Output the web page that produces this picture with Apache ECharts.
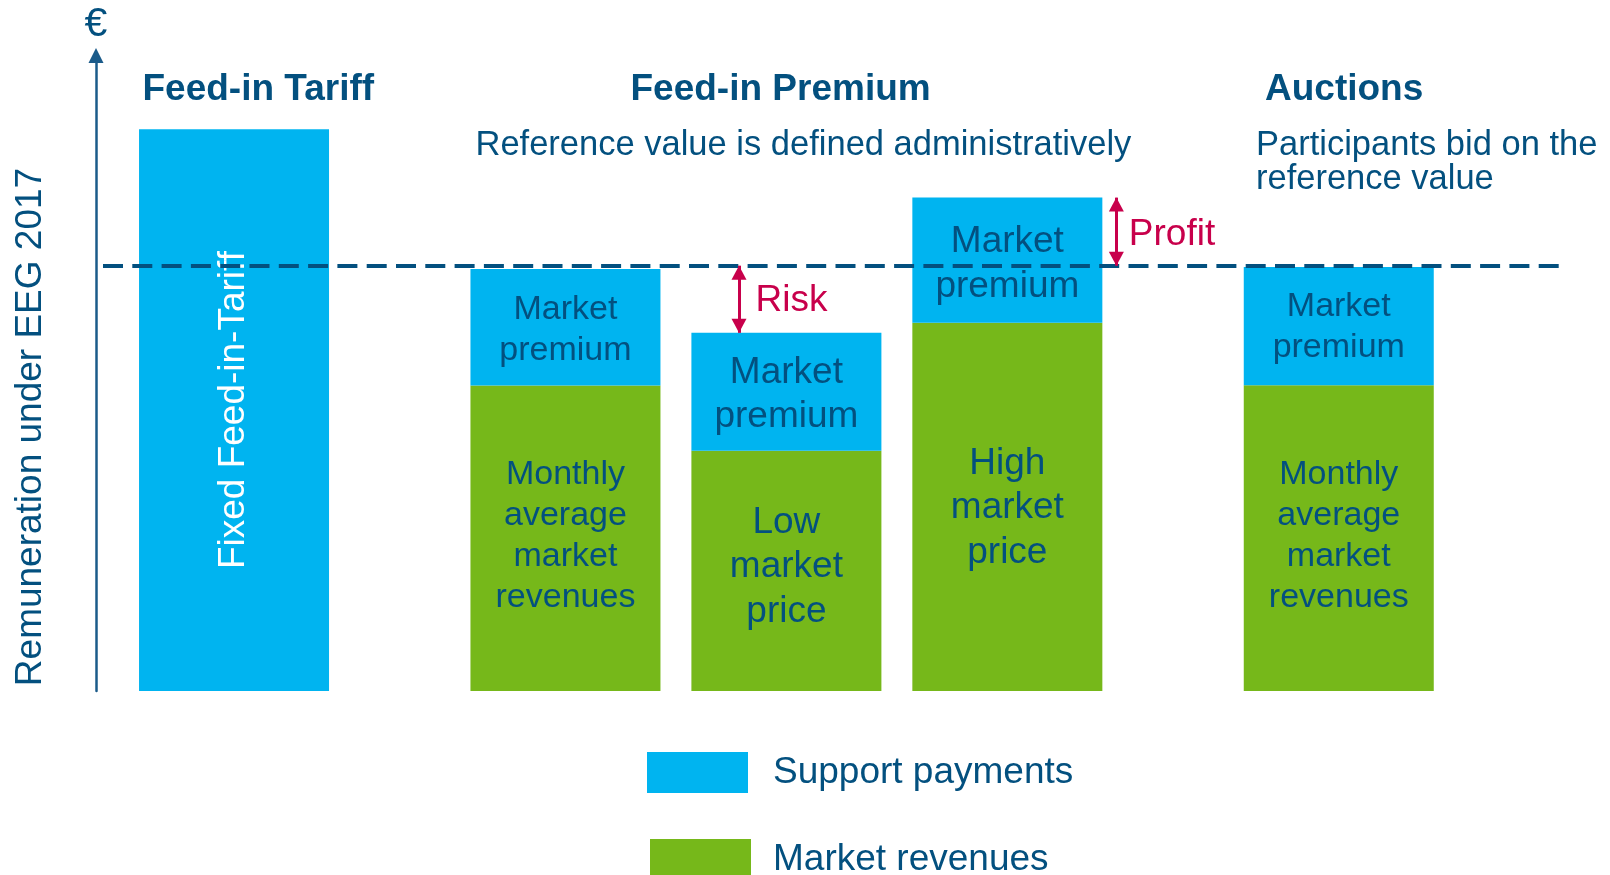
<!DOCTYPE html>
<html>
<head>
<meta charset="utf-8">
<script src="https://cdn.jsdelivr.net/npm/echarts@6/dist/echarts.min.js"></script>
<style>
html,body{margin:0;padding:0;background:#ffffff;}
#chart{width:1610px;height:875px;}
</style>
</head>
<body>
<div id="chart"></div>
<script>
// ---------- data ----------
const slots = ['Feed-in Tariff', '', '', 'FIP: average price', '', 'FIP: low price', '', 'FIP: high price', '', '', 'Auctions'];
const marketRevenues = [null, null, null, 71.8, null, 56.5, null, 86.6, null, null, 71.9];
const supportPayments = [132.1, null, null, 27.4, null, 27.7, null, 29.4, null, null, 27.8];
const referenceValue = 100;
const supportLabels = ['Fixed Feed-in-Tariff', '', '', 'Market\npremium', '', 'Market\npremium', '', 'Market\npremium', '', '', 'Market\npremium'];
const revenueLabels = ['', '', '', 'Monthly\naverage\nmarket\nrevenues', '', 'Low\nmarket\nprice', '', 'High\nmarket\nprice', '', '', 'Monthly\naverage\nmarket\nrevenues'];
const groupTitles = ['Feed-in Tariff', 'Feed-in Premium', 'Auctions'];
const groupNotes = ['Reference value is defined administratively', 'Participants bid on the\nreference value'];
const legendNames = ['Support payments', 'Market revenues'];
const axisName = 'Remuneration under EEG 2017';
const axisUnit = '€';
const annotationNames = ['Risk', 'Profit'];

// ---------- styles ----------
const BLUE = '#00b4f0';
const GREEN = '#76b81a';
const DARK = '#03507f';
const AXIS = '#1b5b8a';
const RED = '#c8004b';
const FONT = '"Liberation Sans", Arial, sans-serif';

const lowIdx = 5, highIdx = 7;
const lowTotal = marketRevenues[lowIdx] + supportPayments[lowIdx];
const highTotal = marketRevenues[highIdx] + supportPayments[highIdx];
const bigSlots = [lowIdx, highIdx];

function labelFor(i, text, isSupport) {
  if (i === 0 && isSupport) {
    return {show: true, position: 'inside', rotate: 90, formatter: text, color: '#ffffff', fontSize: 37, lineHeight: 37, fontFamily: FONT};
  }
  const big = bigSlots.indexOf(i) >= 0;
  const lbl = {show: true, position: 'inside', formatter: text, color: DARK,
    fontSize: big ? 37 : 34, lineHeight: big ? 44.5 : 41, fontFamily: FONT};
  if (isSupport) {
    lbl.offset = [0, i === 10 ? 1 : (i === highIdx ? 4 : 3)];
  } else {
    lbl.offset = [0, i === lowIdx ? -4 : (i === highIdx ? 1 : -2)];
  }
  return lbl;
}

const revenueData = marketRevenues.map((v, i) => v == null ? null : {value: v, label: labelFor(i, revenueLabels[i], false)});
const supportData = supportPayments.map((v, i) => v == null ? null : {value: v, label: labelFor(i, supportLabels[i], true)});

// slot units for the overlay grid (same spacing as the category slots)
const riskX = 4.571, profitX = 7.987;

const arrowLine = (x, y1, y2) => ({
  silent: true,
  symbol: ['triangle', 'triangle'],
  symbolSize: [15, 14],
  symbolOffset: [[0, 7], [0, 7]],
  label: {show: false},
  emphasis: {disabled: true},
  lineStyle: {color: RED, width: 3, type: 'solid'},
  data: [[{coord: [x, y1]}, {coord: [x, y2]}]]
});
const arrowText = (x, y, text, dist, dy) => ({
  silent: true,
  symbol: 'circle',
  symbolSize: 1,
  itemStyle: {color: 'rgba(0,0,0,0)'},
  label: {show: true, position: 'right', distance: dist, offset: [0, dy], formatter: text, color: RED, fontSize: 37, fontFamily: FONT},
  data: [{coord: [x, y]}]
});

const titleStyle = {fontSize: 37, lineHeight: 37, fontWeight: 'bold', color: DARK, fontFamily: FONT};
const noteStyle = {fontSize: 34.5, lineHeight: 34.5, fontWeight: 'normal', color: DARK, fontFamily: FONT};

const chart = echarts.init(document.getElementById('chart'), null, {renderer: 'canvas'});
chart.setOption({
  animation: false,
  backgroundColor: '#ffffff',
  textStyle: {fontFamily: FONT},
  title: [
    {text: groupTitles[0], left: 142.5, top: 71, padding: 0, textStyle: titleStyle},
    {text: groupTitles[1], left: 630.5, top: 71, padding: 0, textStyle: titleStyle},
    {text: groupTitles[2], left: 1265, top: 71, padding: 0, textStyle: titleStyle},
    {text: groupNotes[0], left: 475.5, top: 128, padding: 0, textStyle: noteStyle},
    {text: groupNotes[1], left: 1256, top: 128, padding: 0, textStyle: Object.assign({}, noteStyle, {lineHeight: 34})}
  ],
  legend: [
    {data: [legendNames[0]], orient: 'vertical', left: 647, top: 745, padding: 0, icon: 'rect', itemWidth: 101, itemHeight: 41, selectedMode: false,
     textStyle: {fontSize: 37, lineHeight: 41, color: DARK, padding: [0, 0, 14, 20], fontFamily: FONT}},
    {data: [legendNames[1]], orient: 'vertical', left: 650, top: 832, padding: 0, icon: 'rect', itemWidth: 101, itemHeight: 41, selectedMode: false,
     textStyle: {fontSize: 37, lineHeight: 41, color: DARK, padding: [0, 0, 14, 17], fontFamily: FONT}}
  ],
  grid: [
    {left: 178.8, right: 216, top: 53, bottom: 184},
    {left: 103, right: 49, top: 53, bottom: 184}
  ],
  xAxis: [
    {gridIndex: 0, type: 'category', data: slots, show: false},
    {gridIndex: 1, type: 'value', min: -1.1863, max: 12.012, show: false}
  ],
  yAxis: [
    {gridIndex: 0, type: 'value', min: 0, max: 150, offset: 82.8,
     axisLine: {show: false, onZero: false}, axisTick: {show: false}, axisLabel: {show: false}, splitLine: {show: false},
     name: axisName, nameLocation: 'middle', nameRotate: 90, nameGap: 47,
     nameTextStyle: {fontSize: 37, lineHeight: 37, color: DARK, padding: [0, 110, 0, 0], fontFamily: FONT}},
    {gridIndex: 1, type: 'value', min: 0, max: 150, offset: 7,
     axisLine: {show: true, onZero: false, lineStyle: {color: AXIS, width: 2.5}, symbol: ['none', 'triangle'], symbolSize: [15, 15], symbolOffset: [0, -2.5]},
     axisTick: {show: false}, axisLabel: {show: false}, splitLine: {show: false},
     name: axisUnit, nameLocation: 'end', nameGap: 8,
     nameTextStyle: {fontSize: 41, lineHeight: 41, color: DARK, fontFamily: FONT}}
  ],
  series: [
    {name: legendNames[1], type: 'bar', xAxisIndex: 0, yAxisIndex: 0, stack: 'total', barWidth: 190, clip: false,
     itemStyle: {color: GREEN}, emphasis: {disabled: true}, data: revenueData},
    {name: legendNames[0], type: 'bar', xAxisIndex: 0, yAxisIndex: 0, stack: 'total', barWidth: 190, clip: false,
     itemStyle: {color: BLUE}, emphasis: {disabled: true}, data: supportData},
    {name: 'reference', type: 'line', xAxisIndex: 1, yAxisIndex: 1, data: [], z: 5,
     markLine: {silent: true, symbol: 'none', label: {show: false}, emphasis: {disabled: true},
       lineStyle: {color: DARK, width: 4, type: [20, 9.3]}, data: [{yAxis: referenceValue}]}},
    {name: annotationNames[0], type: 'scatter', xAxisIndex: 1, yAxisIndex: 1, data: [], z: 6,
     markLine: arrowLine(riskX, referenceValue, lowTotal),
     markPoint: arrowText(riskX, (referenceValue + lowTotal) / 2, annotationNames[0], 16, 2)},
    {name: annotationNames[1], type: 'scatter', xAxisIndex: 1, yAxisIndex: 1, data: [], z: 6,
     markLine: arrowLine(profitX, highTotal, referenceValue),
     markPoint: arrowText(profitX, (referenceValue + highTotal) / 2, annotationNames[1], 12, 3)}
  ]
});
</script>
</body>
</html>
